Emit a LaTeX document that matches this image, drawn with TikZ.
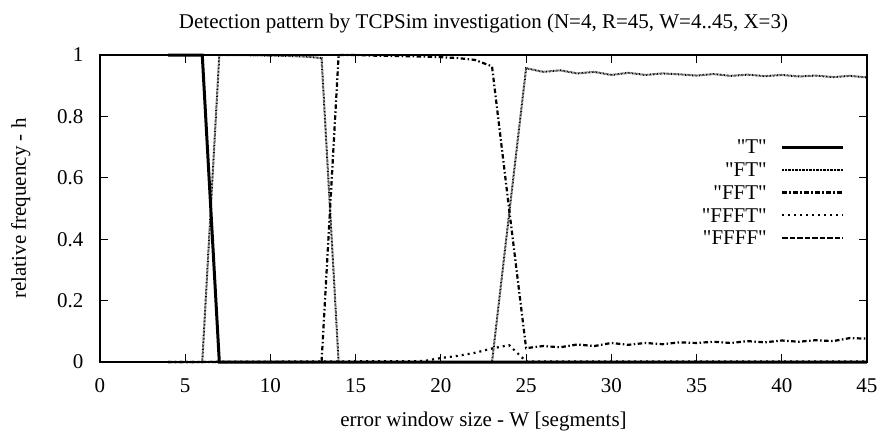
\documentclass[tikz,border=0pt]{standalone}
\usepackage{fontspec}
\setmainfont{Liberation Serif}
\usetikzlibrary{positioning}

\begin{document}
\begin{tikzpicture}[x=17.044pt,y=307pt,
  every node/.style={font=\fontsize{21}{25}\selectfont},
  frame/.style={line width=1.3pt},
  tck/.style={line width=1pt},
  curveT/.style={line width=3pt},
  curveFT/.style={line width=2pt,dash pattern=on 0.7pt off 0.7pt},
  curveFFT/.style={line width=2.2pt,dash pattern=on 4.5pt off 2.5pt on 1.5pt off 2.5pt},
  curveFFFT/.style={line width=2.2pt,dash pattern=on 2pt off 4pt},
  curveFFFF/.style={line width=2.2pt,dash pattern=on 5.5pt off 2pt},
  legtext/.style={anchor=east,inner sep=0pt}]
\useasboundingbox (-100pt,-70pt) rectangle (779pt,362pt);
%\draw[help lines] (0,0) grid (45,1);

\draw[frame] (0,0) rectangle (45,1);
\foreach \x in {0,5,...,45}{
  \draw[tck] (\x,0) -- ++(0,8pt);
  \draw[tck] (\x,1) -- ++(0,-8pt);
  \node[anchor=base] (xt\x) at ([yshift=-30pt]\x,0) {\x};
}
\foreach \y [count=\i] in {0,0.2,0.4,0.6,0.8,1}{
  \draw[tck] (0,\y) -- ++(8pt,0);
  \draw[tck] (45,\y) -- ++(-8pt,0);
  \node[anchor=east] (yt\i) at ([xshift=-13pt]0,\y) {\y};
}

\node[anchor=base] (title) at ([yshift=27pt]22.5,1) {Detection pattern by TCPSim investigation (N=4, R=45, W=4..45, X=3)};
\node[anchor=base] (xlabel) at ([yshift=-64pt]22.5,0) {error window size - W [segments]};
\node[anchor=base,rotate=90] (ylabel) at ([xshift=-74pt]0,0.5) {relative frequency - h};

% curves
\draw[curveT] plot coordinates {(4,1) (5,1) (6,1) (7,0) (45,0)};
\draw[curveFT] plot coordinates {(4,0) (5,0) (6,0) (7,1) (8,1) (9,0.999) (10,0.998) (11,0.997) (12,0.995) (13,0.99) (14,0) (15,0) (16,0) (17,0) (18,0) (19,0) (20,0) (21,0) (22,0) (23,0) (24,0.48) (25,0.957) (26,0.945) (27,0.95) (28,0.94) (29,0.945) (30,0.935) (31,0.942) (32,0.935) (33,0.94) (34,0.937) (35,0.933) (36,0.938) (37,0.932) (38,0.936) (39,0.931) (40,0.935) (41,0.93) (42,0.933) (43,0.928) (44,0.932) (45,0.927)};
\draw[curveFFT] plot coordinates {(4,0) (13,0) (14,1) (15,1) (16,0.998) (17,0.997) (18,0.996) (19,0.995) (20,0.993) (21,0.99) (22,0.984) (23,0.963) (24,0.5) (25,0.045) (26,0.052) (27,0.048) (28,0.057) (29,0.052) (30,0.062) (31,0.056) (32,0.062) (33,0.058) (34,0.064) (35,0.062) (36,0.066) (37,0.062) (38,0.068) (39,0.064) (40,0.07) (41,0.066) (42,0.071) (43,0.068) (44,0.078) (45,0.076)};
\draw[curveFFFT] plot coordinates {(4,0) (19,0.003) (20,0.013) (21,0.02) (22,0.03) (23,0.044) (24,0.055) (25,0.002) (45,0.002)};
\draw[curveFFFF] (4,0) -- (45,0);

% legend
\foreach \nm/\sty [count=\i from 0, evaluate=\i as \ly using 215-22.75*\i] in {T/curveT,FT/curveFT,FFT/curveFFT,FFFT/curveFFFT,FFFF/curveFFFF}{
  \node[legtext] (leg\nm) at (667pt,\ly pt) {\textquotedbl\nm\textquotedbl};
  \draw[\sty] ([xshift=15pt]leg\nm.east) -- ++(61pt,0);
}
\end{tikzpicture}
\end{document}
